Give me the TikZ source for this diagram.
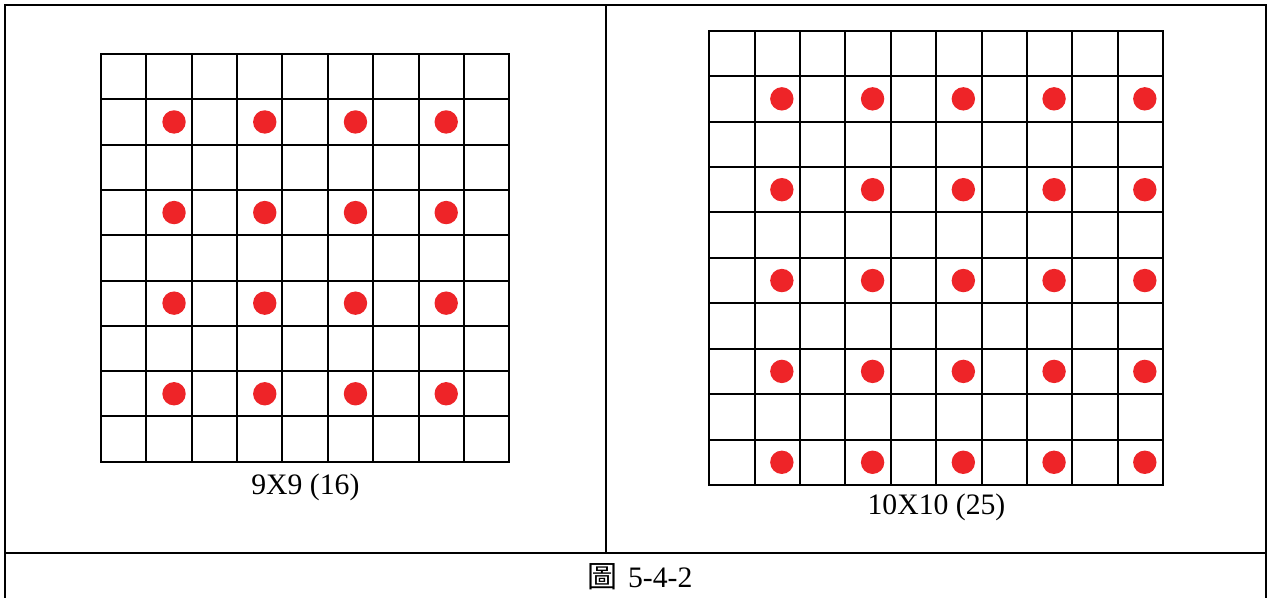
\documentclass[tikz,border=0pt]{standalone}
\usepackage{fontspec}
\setmainfont{Liberation Serif}
\newfontfamily\cjk{Noto Sans CJK TC}
\usetikzlibrary{positioning}
\definecolor{dotred}{HTML}{EE2428}

\begin{document}
\begin{tikzpicture}[x=1pt, y=-1pt, line width=2pt, line cap=rect,
  font=\fontsize{29.7}{32}\selectfont,
  gridline/.style={draw=black},
  reddot/.style={fill=dotred},
  caption/.style={anchor=base, inner sep=0pt}]
  \useasboundingbox (0,0) rectangle (1268,597);

  % Tabulka
  \draw (5,610) -- (5,5) -- (1266,5) -- (1266,610);
  \draw (5,552.7) -- (1266,552.7);
  \draw (605.7,5) -- (605.7,552.7);

  % Mřížka 9x9
  \foreach \i in {0,...,9} {
    \draw[gridline] (101+\i*45.36,54) -- (101+\i*45.36,461.7);
    \draw[gridline] (101,54+\i*45.3) -- (509.3,54+\i*45.3);
  }
  \foreach \c in {1,3,5,7}
    \foreach \r in {1,3,5,7}
      \fill[reddot] (101+\c*45.36+22.68+5,54+\r*45.3+22.65) circle (11.7);
  \node[caption] (capnine) at (305.4,494) {9X9 (16)};

  % Mřížka 10x10
  \foreach \i in {0,...,10} {
    \draw[gridline] (709.3+\i*45.37,30.7) -- (709.3+\i*45.37,485);
    \draw[gridline] (709.3,30.7+\i*45.43) -- (1163,30.7+\i*45.43);
  }
  \foreach \c in {1,3,5,7,9}
    \foreach \r in {1,3,5,7,9}
      \fill[reddot] (709.3+\c*45.37+22.68+4.5,30.7+\r*45.43+22.7) circle (11.7);
  \node[caption] (capten) at (936.5,514) {10X10 (25)};

  % Popisek
  \node[caption] (figcap) at (640,587) {{\cjk\fontsize{30}{32}\selectfont 圖}\hspace{3pt} 5-4-2};
\end{tikzpicture}
\end{document}
